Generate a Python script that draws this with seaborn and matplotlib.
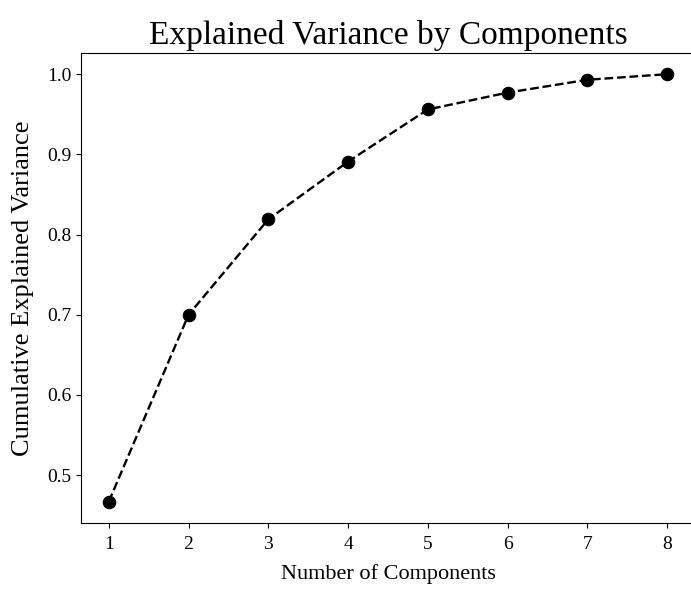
import seaborn as sns
import matplotlib.pyplot as plt
import pandas as pd

components = [1, 2, 3, 4, 5, 6, 7, 8]
cumulative_variance = [0.467, 0.700, 0.819, 0.891, 0.956, 0.977, 0.993, 1.000]

plt.rcParams['font.family'] = ['Liberation Serif', 'DejaVu Serif']

df = pd.DataFrame({'Components': components, 'Variance': cumulative_variance})

fig = plt.figure(figsize=(6.91, 5.93), dpi=100)
ax = fig.add_axes([0.117, 0.118, 0.889, 0.793])
sns.lineplot(x='Components', y='Variance', data=df, ax=ax, marker='o', linestyle='--',
             color='black', markersize=9, linewidth=1.7, markeredgecolor='black')
ax.set_title('Explained Variance by Components', fontsize=24, pad=6)
ax.set_xlabel('Number of Components', fontsize=16, labelpad=8)
ax.set_ylabel('Cumulative Explained Variance', fontsize=19, labelpad=9)
ax.tick_params(labelsize=14)
ax.tick_params(axis='x', pad=6)
ax.set_xticks(components)
fig.savefig('out.png', dpi=100)
